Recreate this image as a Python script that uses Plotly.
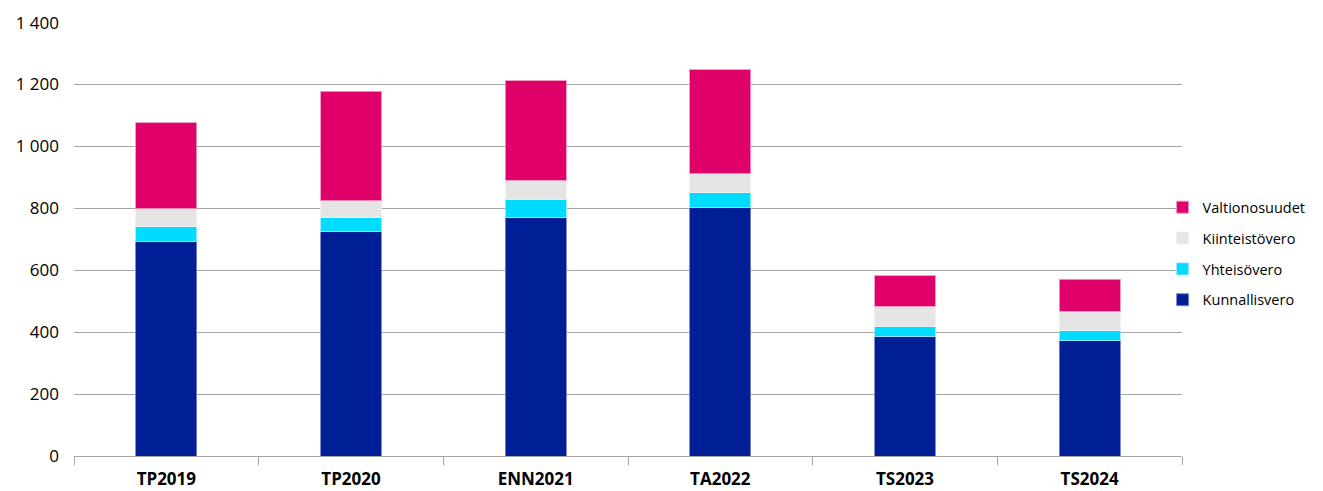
import plotly.graph_objects as go

categories = ["TP2019", "TP2020", "ENN2021", "TA2022", "TS2023", "TS2024"]
kunnallisvero = [693, 724, 769, 804, 387, 372]
yhteisovero = [47, 45, 60, 47, 32, 32]
kiinteistovero = [58, 56, 61, 61, 64, 64]
valtionosuudet = [279, 353, 322, 336, 99, 103]
y_ticks = [0, 200, 400, 600, 800, 1000, 1200, 1400]

series = [
    ("Kunnallisvero", kunnallisvero, "#001E96", "rgba(120,130,200,0.9)"),
    ("Yhteisövero", yhteisovero, "#00DCFF", "rgba(150,235,255,0.9)"),
    ("Kiinteistövero", kiinteistovero, "#E5E5E5", "rgba(240,240,240,0.9)"),
    ("Valtionosuudet", valtionosuudet, "#E0006A", "rgba(240,150,190,0.9)"),
]

fig = go.Figure()
for i, (name, vals, col, lcol) in enumerate(series):
    fig.add_trace(go.Bar(
        x=categories, y=vals, name=name,
        marker=dict(color=col, line=dict(color=lcol, width=1)),
        legendgroup=str(i),
        legendrank=len(series) - i,
    ))

fig.update_layout(
    barmode="stack",
    bargap=0.67,
    width=1323, height=491,
    margin=dict(l=74, r=141, t=22, b=35, autoexpand=False),
    paper_bgcolor="white",
    plot_bgcolor="white",
    separators=", ",
    font=dict(family="Open Sans", size=17, color="#000000"),
    showlegend=True,
    legend=dict(
        traceorder="grouped",
        tracegroupgap=9,
        x=0.9825, xanchor="left",
        y=0.61, yanchor="top",
        font=dict(size=14.5),
        bgcolor="rgba(0,0,0,0)",
    ),
    xaxis=dict(
        automargin=False,
        showline=True, linecolor="#A6A6A6", linewidth=1,
        ticks="outside", tickson="boundaries", ticklen=8, tickcolor="#A6A6A6",
        ticklabelstandoff=8,
        tickfont=dict(size=17, family="Open Sans", weight="bold"),
        showgrid=False,
    ),
    yaxis=dict(
        automargin=False,
        range=[0, 1402],
        tickvals=y_ticks,
        tickformat=",",
        showgrid=True, gridcolor="#A6A6A6", gridwidth=1,
        zeroline=False,
        tickfont=dict(size=17),
        ticks="", ticklen=0,
        ticklabelstandoff=14,
    ),
)

fig.write_html("out.html", config={"displayModeBar": False},
               post_script="document.body.style.margin='0';")
